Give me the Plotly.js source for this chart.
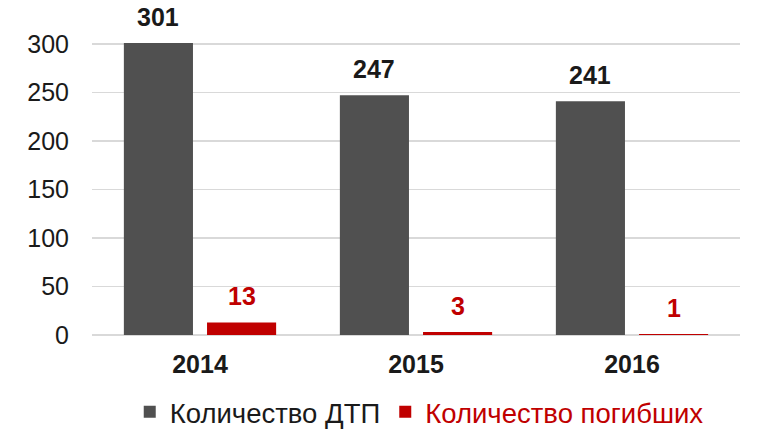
<!DOCTYPE html>
<html>
<head>
<meta charset="utf-8">
<script src="https://cdn.plot.ly/plotly-3.0.1.min.js"></script>
<style>html,body{margin:0;padding:0;background:#fff}#chart{width:766px;height:443px}</style>
</head>
<body>
<div id="chart"></div>
<script>
const years = ['2014', '2015', '2016'];
const accidents = [301, 247, 241];
const deaths = [13, 3, 1];
const seriesNames = ['Количество ДТП', 'Количество погибших'];
const yTicks = [0, 50, 100, 150, 200, 250, 300];

const font = 'Liberation Sans, Arial, sans-serif';
const grayColor = '#505050', redColor = '#c00000';
const bargap = 0.23, bargroupgap = 0.169;
const plotL = 92, plotR = 26, W = 766;
const catPx = (W - plotL - plotR) / years.length;
const slotPx = catPx * (1 - bargap) / 2;

const traces = [
  {type: 'bar', x: years, y: accidents, name: seriesNames[0],
   marker: {color: grayColor}, hoverinfo: 'none'},
  {type: 'bar', x: years, y: deaths,
   name: '<span style="color:' + redColor + '">' + seriesNames[1] + '</span>',
   marker: {color: redColor}, hoverinfo: 'none'}
];
const annotations = [];
[[accidents, -1, '#1a1a1a'], [deaths, 1, redColor]].forEach(([vals, side, col]) => {
  vals.forEach((v, i) => annotations.push({
    x: i, y: v, xref: 'x', yref: 'y', text: String(v), showarrow: false,
    xanchor: 'center', yanchor: 'bottom', xshift: side * slotPx / 2, yshift: 10,
    font: {family: font, size: 25, color: col, weight: 'bold'}
  }));
});
const layout = {
  width: 766, height: 443,
  margin: {l: plotL, r: plotR, t: 42, b: 108},
  paper_bgcolor: '#fff', plot_bgcolor: '#fff',
  barmode: 'group', bargap: bargap, bargroupgap: bargroupgap,
  showlegend: true,
  legend: {orientation: 'h', xref: 'paper', yref: 'container', x: 0.505, xanchor: 'center',
    y: 0.07, yanchor: 'middle',
    font: {family: font, size: 27.5, color: '#1a1a1a'}, itemwidth: 30},
  annotations: annotations,
  xaxis: {
    type: 'category', range: [-0.5, years.length - 0.5], automargin: false,
    showgrid: false, zeroline: false, showline: false, ticks: '',
    tickfont: {family: font, size: 25, color: '#1a1a1a', weight: 'bold'},
    ticklabelstandoff: 12
  },
  yaxis: {
    range: [0, 302], tickvals: yTicks, ticktext: yTicks.map(String), automargin: false,
    showgrid: true, gridcolor: '#d9d9d9', gridwidth: 1.5,
    zeroline: true, zerolinecolor: '#d9d9d9', zerolinewidth: 1.5,
    showline: false, ticks: '',
    tickfont: {family: font, size: 25, color: '#1a1a1a'},
    ticklabelstandoff: 22
  },
  font: {family: font}
};
Plotly.newPlot('chart', traces, layout, {displayModeBar: false, staticPlot: true});
</script>
</body>
</html>
